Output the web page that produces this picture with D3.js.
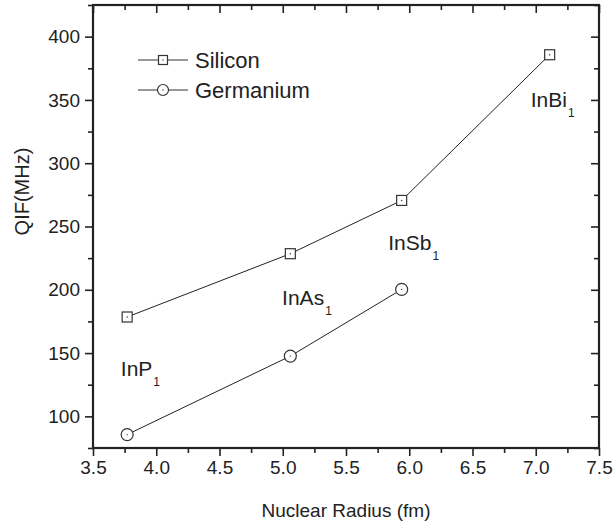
<!DOCTYPE html>
<html>
<head>
<meta charset="utf-8">
<script src="https://cdn.jsdelivr.net/npm/d3@7"></script>
<style>
  body { margin: 0; background: #fff; }
  svg text, svg tspan { font-family: "Liberation Sans", Arial, sans-serif; fill: #222; }
</style>
</head>
<body>
<div id="chart"></div>
<script>
const width = 614;
const height = 530;
const margin = { top: 5, right: 15, bottom: 82, left: 93 };

// data
const radius = [3.77, 5.06, 5.94, 7.11];
const silicon = [178.5, 228.5, 270.6, 385.7];
const germanium = [85.6, 147.6, 200.3];
const seriesNames = ["Silicon", "Germanium"];
const xTicks = [3.5, 4.0, 4.5, 5.0, 5.5, 6.0, 6.5, 7.0, 7.5];
const yTicks = [100, 150, 200, 250, 300, 350, 400];
const labels = [
  { name: "InP", sub: "1", x: 3.72, y: 131.5 },
  { name: "InAs", sub: "1", x: 4.995, y: 187.6 },
  { name: "InSb", sub: "1", x: 5.834, y: 231.1 },
  { name: "InBi", sub: "1", x: 6.96, y: 344.8 }
];

const svg = d3.select("#chart")
  .append("svg")
  .attr("width", width)
  .attr("height", height);

const x = d3.scaleLinear().domain([3.5, 7.5]).range([margin.left, width - margin.right]);
const y = d3.scaleLinear().domain([75, 425]).range([height - margin.bottom, margin.top]);

const minorX = d3.range(3.5, 7.51, 0.25).filter(v => !xTicks.some(t => Math.abs(t - v) < 1e-6));
const minorY = d3.range(75, 426, 25).filter(v => !yTicks.includes(v));

function styleAxis(g) {
  g.select(".domain").remove();
  g.selectAll(".tick line").attr("stroke", "#222").attr("stroke-width", 1.6);
  g.selectAll(".tick text").attr("fill", "#222").style("font-size", "19px")
    .style("font-family", "'Liberation Sans', Arial, sans-serif");
}

const bottom = height - margin.bottom;
const right = width - margin.right;

// bottom axis (outward ticks)
svg.append("g").attr("transform", `translate(0,${bottom})`)
  .call(d3.axisBottom(x).tickValues(xTicks).tickSize(8).tickPadding(5).tickFormat(d3.format(".1f")))
  .call(styleAxis);
svg.append("g").attr("transform", `translate(0,${bottom})`)
  .call(d3.axisBottom(x).tickValues(minorX).tickSize(5).tickFormat(""))
  .call(styleAxis);

// left axis (outward ticks)
svg.append("g").attr("transform", `translate(${margin.left},0)`)
  .call(d3.axisLeft(y).tickValues(yTicks).tickSize(8).tickPadding(5))
  .call(styleAxis);
svg.append("g").attr("transform", `translate(${margin.left},0)`)
  .call(d3.axisLeft(y).tickValues(minorY).tickSize(5).tickFormat(""))
  .call(styleAxis);

// top axis (inward ticks)
svg.append("g").attr("transform", `translate(0,${margin.top})`)
  .call(d3.axisTop(x).tickValues(xTicks).tickSize(-8).tickFormat(""))
  .call(styleAxis);
svg.append("g").attr("transform", `translate(0,${margin.top})`)
  .call(d3.axisTop(x).tickValues(minorX).tickSize(-5).tickFormat(""))
  .call(styleAxis);

// right axis (inward ticks)
svg.append("g").attr("transform", `translate(${right},0)`)
  .call(d3.axisRight(y).tickValues(yTicks).tickSize(-8).tickFormat(""))
  .call(styleAxis);
svg.append("g").attr("transform", `translate(${right},0)`)
  .call(d3.axisRight(y).tickValues(minorY).tickSize(-5).tickFormat(""))
  .call(styleAxis);

// frame
svg.append("rect")
  .attr("x", margin.left).attr("y", margin.top)
  .attr("width", right - margin.left).attr("height", bottom - margin.top)
  .attr("fill", "none").attr("stroke", "#222").attr("stroke-width", 2.2);

// axis titles
svg.append("text")
  .attr("x", (margin.left + right) / 2).attr("y", 517)
  .attr("text-anchor", "middle").style("font-size", "19px")
  .text("Nuclear Radius (fm)");
svg.append("text")
  .attr("transform", `translate(29,${(margin.top + bottom) / 2 - 35}) rotate(-90)`)
  .attr("text-anchor", "middle").style("font-size", "20px")
  .text("QIF(MHz)");

const line = d3.line().x(d => x(d[0])).y(d => y(d[1]));
const siData = silicon.map((v, i) => [radius[i], v]);
const geData = germanium.map((v, i) => [radius[i], v]);

function drawSquare(g, cx, cy, s) {
  g.append("rect").attr("x", cx - s / 2).attr("y", cy - s / 2)
    .attr("width", s).attr("height", s)
    .attr("fill", "#fff").attr("stroke", "#333").attr("stroke-width", 1.2);
  g.append("circle").attr("cx", cx).attr("cy", cy).attr("r", 0.7).attr("fill", "#333");
}
function drawCircle(g, cx, cy, r) {
  g.append("circle").attr("cx", cx).attr("cy", cy).attr("r", r)
    .attr("fill", "#fff").attr("stroke", "#333").attr("stroke-width", 1.2);
  g.append("circle").attr("cx", cx).attr("cy", cy).attr("r", 0.7).attr("fill", "#333");
}

svg.append("path").datum(siData).attr("d", line)
  .attr("fill", "none").attr("stroke", "#222").attr("stroke-width", 1);
svg.append("path").datum(geData).attr("d", line)
  .attr("fill", "none").attr("stroke", "#222").attr("stroke-width", 1);

const marks = svg.append("g");
siData.forEach(d => drawSquare(marks, x(d[0]), y(d[1]), 10));
geData.forEach(d => drawCircle(marks, x(d[0]), y(d[1]), 6));

// point labels with subscripts
svg.append("g").selectAll("text")
  .data(labels)
  .join("text")
  .attr("x", d => x(d.x))
  .attr("y", d => y(d.y))
  .style("font-size", "21px")
  .each(function(d) {
    const t = d3.select(this);
    t.append("tspan").attr("fill", "#222").text(d.name);
    t.append("tspan").attr("dy", 10).attr("dx", 1).attr("fill", "#222")
      .style("font-size", "12px").text(d.sub);
  });

// legend
const legend = svg.append("g");
const legendRows = [60, 90];
seriesNames.forEach((name, i) => {
  const ly = legendRows[i];
  legend.append("line").attr("x1", 138).attr("x2", 188).attr("y1", ly).attr("y2", ly)
    .attr("stroke", "#333").attr("stroke-width", 1.2);
  if (i === 0) drawSquare(legend, 163, ly, 9);
  else drawCircle(legend, 163, ly, 5.5);
  legend.append("text").attr("x", 195).attr("y", ly + 8)
    .style("font-size", "22px").text(name);
});
</script>
</body>
</html>
